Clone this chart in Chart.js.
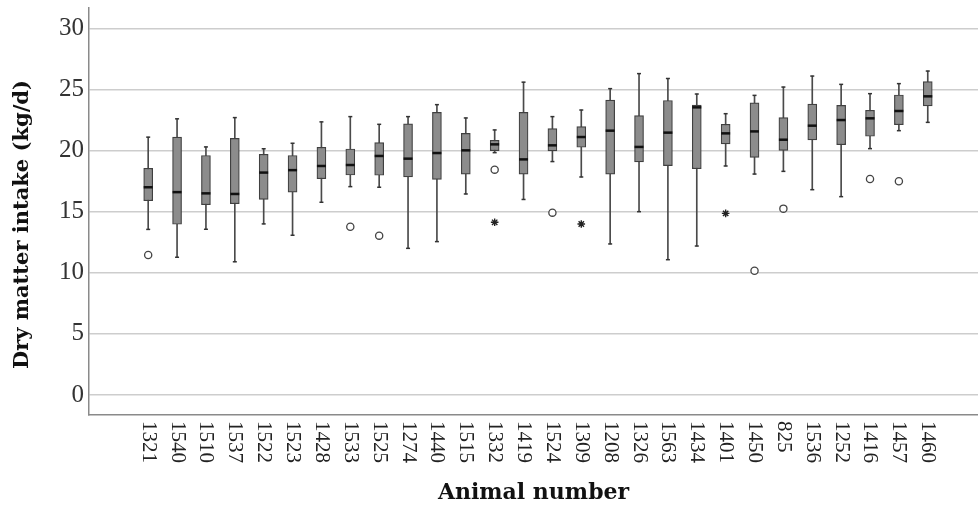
<!DOCTYPE html>
<html>
<head>
<meta charset="utf-8">
<script src="https://cdn.jsdelivr.net/npm/chart.js@4.4.0/dist/chart.umd.min.js"></script>
<style>
  html, body { margin: 0; padding: 0; background: #fff; overflow: hidden; }
  #wrap { width: 978px; height: 506px; }
</style>
</head>
<body>
<div id="wrap"><canvas id="dmiChart"></canvas></div>
<script>
// Daily dry matter intake per animal (kg/d), box-and-whisker summary
const animals = [
  '1321','1540','1510','1537','1522','1523','1428','1533','1525','1274',
  '1440','1515','1332','1419','1524','1309','1208','1326','1563','1434',
  '1401','1450','825','1536','1252','1416','1457','1460'
];
const whiskerLow = [
  13.55, 11.27, 13.56, 10.9, 14.0, 13.07, 15.77, 17.05, 17.0, 12.0,
  12.55, 16.45, 19.83, 16.0, 19.1, 17.84, 12.36, 15.0, 11.07, 12.19,
  18.74, 18.08, 18.3, 16.8, 16.23, 20.16, 21.63, 22.31
];
const q1 = [
  15.9, 13.97, 15.57, 15.65, 16.0, 16.6, 17.7, 18.0, 17.98, 17.84,
  17.65, 18.08, 19.99, 18.08, 19.97, 20.27, 18.08, 19.07, 18.77, 18.52,
  20.54, 19.44, 20.02, 20.87, 20.48, 21.17, 22.12, 23.65
];
const median = [
  17.0, 16.6, 16.5, 16.45, 18.2, 18.4, 18.74, 18.82, 19.56, 19.34,
  19.8, 20.02, 20.51, 19.28, 20.43, 21.11, 21.63, 20.3, 21.47, 23.54,
  21.41, 21.57, 20.89, 22.04, 22.5, 22.64, 23.24, 24.44
];
const q3 = [
  18.55, 21.1, 19.6, 21.0, 19.7, 19.6, 20.27, 20.13, 20.65, 22.18,
  23.13, 21.41, 20.84, 23.13, 21.8, 21.96, 24.14, 22.86, 24.1, 23.73,
  22.15, 23.9, 22.7, 23.81, 23.7, 23.3, 24.55, 25.64
];
const whiskerHigh = [
  21.1, 22.6, 20.3, 22.7, 20.15, 20.6, 22.35, 22.78, 22.15, 22.78,
  23.76, 22.67, 21.69, 25.6, 22.78, 23.32, 25.07, 26.3, 25.9, 24.63,
  23.02, 24.52, 25.2, 26.1, 25.42, 24.66, 25.48, 26.51
];
// outliers (circle) and extreme values (star)
const outlierAnimals = ['1321','1533','1525','1332','1524','1450','825','1416','1457'];
const outlierValues = [11.45, 13.77, 13.04, 18.44, 14.92, 10.17, 15.25, 17.68, 17.49];
const extremeAnimals = ['1332','1309','1401'];
const extremeValues = [14.13, 13.99, 14.86];
const yTicks = [0, 5, 10, 15, 20, 25, 30];
const yTitle = 'Dry matter intake (kg/d)';

const SERIF = '"Liberation Serif", "DejaVu Serif", serif';
const TITLE_FONT = '"DejaVu Serif", "Liberation Serif", serif';
const idx = a => animals.indexOf(a);

// animal numbers read top-to-bottom under the axis, plus the y title
const axisText = {
  id: 'axisText',
  afterDraw(chart) {
    const { ctx, scales: { x, y } } = chart;
    ctx.save();
    ctx.font = '21px ' + SERIF;
    ctx.fillStyle = '#222';
    ctx.textAlign = 'left';
    ctx.textBaseline = 'middle';
    animals.forEach((a, i) => {
      ctx.save();
      ctx.translate(x.getPixelForValue(i), x.top + 6);
      ctx.rotate(Math.PI / 2);
      ctx.fillText(a, 0, 0);
      ctx.restore();
    });
    ctx.font = 'bold 21px ' + TITLE_FONT;
    ctx.fillStyle = '#111';
    ctx.textAlign = 'center';
    ctx.translate(23, (y.top + y.bottom) / 2 + 13);
    ctx.rotate(-Math.PI / 2);
    ctx.fillText(yTitle, 0, 0);
    ctx.restore();
  }
};

const ctx = document.getElementById('dmiChart').getContext('2d');
new Chart(ctx, {
  type: 'bar',
  data: {
    datasets: [
      {
        label: 'whisker',
        data: animals.map((a, i) => ({ x: i, y: [whiskerLow[i], whiskerHigh[i]] })),
        backgroundColor: '#4a4a4a',
        barThickness: 1,
        grouped: false,
        order: 5
      },
      {
        label: 'box',
        data: animals.map((a, i) => ({ x: i, y: [q1[i], q3[i]] })),
        backgroundColor: '#8c8c8c',
        borderColor: '#404040',
        borderWidth: 1.2,
        borderSkipped: false,
        barThickness: 9,
        grouped: false,
        order: 4
      },
      {
        type: 'scatter',
        label: 'caps',
        data: animals.flatMap((a, i) => [{ x: i, y: whiskerLow[i] }, { x: i, y: whiskerHigh[i] }]),
        pointStyle: 'line',
        pointRadius: 2,
        borderColor: '#333',
        borderWidth: 1.5,
        order: 3
      },
      {
        type: 'scatter',
        label: 'median',
        data: animals.map((a, i) => ({ x: i, y: median[i] })),
        pointStyle: 'line',
        pointRadius: 4.5,
        borderColor: '#111',
        borderWidth: 2.5,
        order: 1
      },
      {
        type: 'scatter',
        label: 'outlier',
        data: outlierAnimals.map((a, k) => ({ x: idx(a), y: outlierValues[k] })),
        pointStyle: 'circle',
        pointRadius: 3.6,
        backgroundColor: '#fff',
        borderColor: '#444',
        borderWidth: 1.3,
        order: 2
      },
      {
        type: 'scatter',
        label: 'extreme',
        data: extremeAnimals.map((a, k) => ({ x: idx(a), y: extremeValues[k] })),
        pointStyle: 'star',
        pointRadius: 3.8,
        borderColor: '#222',
        borderWidth: 1.4,
        order: 2
      }
    ]
  },
  options: {
    responsive: true,
    maintainAspectRatio: false,
    animation: false,
    layout: { autoPadding: false, padding: { top: 8, right: 0, bottom: 0, left: 0 } },
    scales: {
      x: {
        type: 'linear',
        offset: false,
        min: -2.05,
        max: 28.74,
        grid: { display: false, offset: false },
        border: { display: true, color: '#8a8a8a', width: 1.5 },
        ticks: { display: false },
        afterFit(scale) { scale.height = 91; },
        title: {
          display: true,
          text: 'Animal number',
          font: { family: TITLE_FONT, size: 22, weight: 'bold', lineHeight: 1 },
          color: '#111',
          padding: { top: 0, bottom: 2 }
        }
      },
      y: {
        min: -1.64,
        max: 31.67,
        afterBuildTicks(scale) { scale.ticks = yTicks.map(v => ({ value: v })); },
        afterFit(scale) {
          scale.width = 89;
          scale.paddingTop = 0;
          scale.paddingBottom = 0;
        },
        grid: { color: '#cdcdcd', lineWidth: 1.5, drawTicks: false },
        border: { display: true, color: '#8a8a8a', width: 1.5 },
        ticks: {
          padding: 5,
          color: '#333',
          font: { family: SERIF, size: 25 }
        }
      }
    },
    plugins: {
      legend: { display: false },
      tooltip: { enabled: false }
    }
  },
  plugins: [axisText]
});
</script>
</body>
</html>
